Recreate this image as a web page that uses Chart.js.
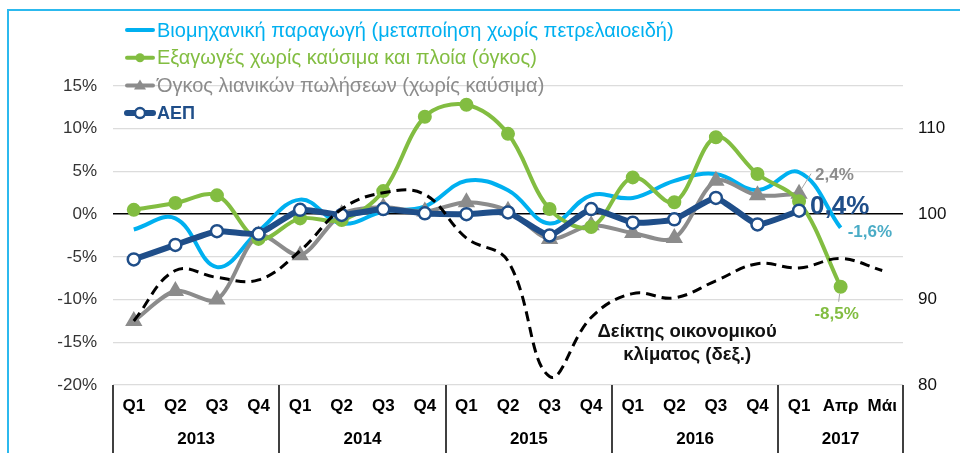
<!DOCTYPE html>
<html lang="el">
<head>
    <meta charset="UTF-8">
    <title>Δείκτες οικονομικής δραστηριότητας</title>
    <script src="https://cdn.jsdelivr.net/npm/chart.js"></script>
    <style>
        html, body { margin: 0; padding: 0; overflow: hidden; background: #fff; }
        #wrap { position: relative; width: 960px; height: 453px; }
        #frame {
            position: absolute; left: 7px; top: 9px; width: 980px; height: 480px;
            border-left: 2px solid #2cb9ee; border-top: 2px solid #2cb9ee;
            pointer-events: none;
        }
    </style>
</head>
<body>
<div id="wrap">
    <canvas id="chartCanvas" width="960" height="453"></canvas>
    <div id="frame"></div>
</div>
<script>
    // categories
    const quarters = ['Q1', 'Q2', 'Q3', 'Q4', 'Q1', 'Q2', 'Q3', 'Q4', 'Q1', 'Q2', 'Q3', 'Q4',
                      'Q1', 'Q2', 'Q3', 'Q4', 'Q1', 'Απρ', 'Μάι'];
    const years = ['2013', '2014', '2015', '2016', '2017'];
    const yearSpans = [4, 4, 4, 4, 3];

    // series (% y/y)
    const industry = [-1.8, -0.5, -6.2, -2.0, 1.7, -1.1, 0.3, 0.9, 3.9, 2.8, -1.1, 2.2, 1.9, 3.9, 4.7, 2.8, 4.9, -1.6, null];
    const exportsVol = [0.5, 1.3, 2.2, -2.9, -0.5, -0.7, 2.7, 11.4, 12.8, 9.4, 0.6, -1.5, 4.3, 1.4, 9.0, 4.7, 1.5, -8.5, null];
    const retail = [-12.5, -9.0, -10.0, -2.5, -4.8, 0.0, 0.8, 0.3, 1.4, 0.4, -2.9, -1.3, -2.2, -2.8, 3.9, 2.2, 2.4, null, null];
    const gdp = [-5.3, -3.6, -2.0, -2.3, 0.5, -0.1, 0.6, 0.1, 0.0, 0.2, -2.5, 0.6, -1.0, -0.6, 1.9, -1.2, 0.4, null, null];
    // economic sentiment index (right axis)
    const climate = [87.5, 93.4, 92.6, 92.3, 95.7, 100.6, 102.5, 102.3, 97.2, 94.5, 81.0, 87.9, 90.7, 90.2, 92.2, 94.2, 93.7, 94.8, 93.4];

    const leftTicks = [-20, -15, -10, -5, 0, 5, 10, 15];
    const rightTicks = [80, 90, 100, 110];

    const FONT = 'Arial, "Liberation Sans", sans-serif';
    const C_IND = '#00b0f0', C_EXP = '#82bd41', C_RET = '#8c8c8c', C_GDP = '#1f4e89';

    const legendRows = [
        { text: 'Βιομηχανική παραγωγή (μεταποίηση χωρίς πετρελαιοειδή)', color: C_IND, marker: null, width: 4 },
        { text: 'Εξαγωγές χωρίς καύσιμα και πλοία (όγκος)', color: C_EXP, marker: 'dot', width: 4 },
        { text: 'Όγκος λιανικών πωλήσεων (χωρίς καύσιμα)', color: C_RET, marker: 'tri', width: 4 },
        { text: 'ΑΕΠ', color: C_GDP, marker: 'ring', width: 6, bold: true }
    ];

    const extrasPlugin = {
        id: 'extras',
        afterDraw(chart) {
            const { ctx, chartArea, scales } = chart;
            const x = scales.x, y = scales.y, yR = scales.yR;
            const step = x.getPixelForValue(1) - x.getPixelForValue(0);
            ctx.save();

            // year groups under the quarter labels
            ctx.strokeStyle = '#404040';
            ctx.lineWidth = 2;
            ctx.fillStyle = '#000';
            ctx.font = 'bold 17px ' + FONT;
            ctx.textAlign = 'center';
            ctx.textBaseline = 'middle';
            let start = 0;
            years.forEach((yr, k) => {
                const left = x.getPixelForValue(start) - step / 2;
                const right = x.getPixelForValue(start + yearSpans[k] - 1) + step / 2;
                ctx.beginPath();
                ctx.moveTo(Math.round(left), chartArea.bottom);
                ctx.lineTo(Math.round(left), chart.height);
                ctx.stroke();
                if (k === years.length - 1) {
                    ctx.beginPath();
                    ctx.moveTo(Math.round(right), chartArea.bottom);
                    ctx.lineTo(Math.round(right), chart.height);
                    ctx.stroke();
                }
                ctx.fillText(yr, (left + right) / 2, chartArea.bottom + 54);
                start += yearSpans[k];
            });

            // legend, top left over the plot
            legendRows.forEach((row, i) => {
                const ly = 30 + i * 27.7;
                ctx.strokeStyle = row.color;
                ctx.lineWidth = row.width;
                ctx.lineCap = 'round';
                ctx.beginPath();
                ctx.moveTo(127, ly);
                ctx.lineTo(153, ly);
                ctx.stroke();
                ctx.fillStyle = row.color;
                if (row.marker === 'dot') {
                    ctx.beginPath(); ctx.arc(140, ly, 4.5, 0, Math.PI * 2); ctx.fill();
                } else if (row.marker === 'tri') {
                    ctx.beginPath();
                    ctx.moveTo(140, ly - 6); ctx.lineTo(146, ly + 4); ctx.lineTo(134, ly + 4);
                    ctx.closePath(); ctx.fill();
                } else if (row.marker === 'ring') {
                    ctx.fillStyle = '#fff';
                    ctx.lineWidth = 2.5;
                    ctx.beginPath(); ctx.arc(140, ly, 5, 0, Math.PI * 2); ctx.fill(); ctx.stroke();
                    ctx.fillStyle = row.color;
                }
                ctx.font = row.bold ? 'bold 18px ' + FONT : '20px ' + FONT;
                ctx.textAlign = 'left';
                ctx.textBaseline = 'middle';
                ctx.fillText(row.text, 157, ly + 1);
            });

            // value call-outs
            const last = 16, apr = 17;
            ctx.lineCap = 'butt';
            ctx.strokeStyle = '#a6a6a6';
            ctx.lineWidth = 1;
            ctx.beginPath();
            ctx.moveTo(x.getPixelForValue(last) + 2, y.getPixelForValue(retail[last]) - 4);
            ctx.lineTo(x.getPixelForValue(last) + 12, y.getPixelForValue(retail[last]) - 20);
            ctx.moveTo(x.getPixelForValue(apr) - 1, y.getPixelForValue(exportsVol[apr]) + 7);
            ctx.lineTo(x.getPixelForValue(apr) - 2, y.getPixelForValue(exportsVol[apr]) + 15);
            ctx.stroke();

            ctx.textAlign = 'left';
            ctx.font = 'bold 17px ' + FONT;
            ctx.fillStyle = '#8c8c8c';
            ctx.fillText('2,4%', x.getPixelForValue(last) + 16, y.getPixelForValue(retail[last]) - 18);
            ctx.font = 'bold 26px ' + FONT;
            ctx.fillStyle = C_GDP;
            ctx.fillText('0,4%', x.getPixelForValue(last) + 11, y.getPixelForValue(gdp[last]) - 4);
            ctx.font = 'bold 17px ' + FONT;
            ctx.fillStyle = '#4bacc6';
            ctx.fillText('-1,6%', x.getPixelForValue(apr) + 7, y.getPixelForValue(industry[apr]) + 5);
            ctx.fillStyle = C_EXP;
            ctx.textAlign = 'center';
            ctx.fillText('-8,5%', x.getPixelForValue(apr) - 4, y.getPixelForValue(exportsVol[apr]) + 28);

            // right-axis series label
            ctx.fillStyle = '#111';
            ctx.font = 'bold 18.5px ' + FONT;
            const cx = (x.getPixelForValue(13) + x.getPixelForValue(14)) / 2 - 8;
            ctx.fillText('Δείκτης οικονομικού', cx, yR.getPixelForValue(86.2));
            ctx.fillText('κλίματος (δεξ.)', cx, yR.getPixelForValue(83.5));

            ctx.restore();
        }
    };

    const ctx = document.getElementById('chartCanvas').getContext('2d');
    Chart.defaults.font.family = FONT;

    new Chart(ctx, {
        type: 'line',
        data: {
            labels: quarters,
            datasets: [
                {
                    label: 'Δείκτης οικονομικού κλίματος (δεξ.)',
                    data: climate,
                    yAxisID: 'yR',
                    borderColor: '#000',
                    borderWidth: 3,
                    borderDash: [10, 6],
                    pointRadius: 0,
                    tension: 0.4,
                    order: 0
                },
                {
                    label: 'ΑΕΠ',
                    data: gdp,
                    borderColor: C_GDP,
                    borderWidth: 6,
                    pointRadius: 6,
                    pointBackgroundColor: '#fff',
                    pointBorderColor: C_GDP,
                    pointBorderWidth: 2.5,
                    tension: 0.15,
                    order: 1
                },
                {
                    label: 'Εξαγωγές χωρίς καύσιμα και πλοία (όγκος)',
                    data: exportsVol,
                    borderColor: C_EXP,
                    borderWidth: 4,
                    pointRadius: 5,
                    pointBackgroundColor: C_EXP,
                    pointBorderColor: C_EXP,
                    tension: 0.35,
                    order: 2
                },
                {
                    label: 'Όγκος λιανικών πωλήσεων (χωρίς καύσιμα)',
                    data: retail,
                    borderColor: C_RET,
                    borderWidth: 4,
                    pointStyle: 'triangle',
                    pointRadius: 6,
                    pointBackgroundColor: C_RET,
                    pointBorderColor: C_RET,
                    tension: 0.3,
                    order: 3
                },
                {
                    label: 'Βιομηχανική παραγωγή (μεταποίηση χωρίς πετρελαιοειδή)',
                    data: industry,
                    borderColor: C_IND,
                    borderWidth: 4,
                    pointRadius: 0,
                    tension: 0.4,
                    order: 4
                }
            ]
        },
        options: {
            responsive: false,
            devicePixelRatio: 1,
            animation: false,
            layout: { padding: { top: 86, left: 0, right: 0, bottom: 0 } },
            plugins: {
                legend: { display: false },
                tooltip: { enabled: false }
            },
            scales: {
                x: {
                    offset: true,
                    grid: { display: false, drawTicks: false },
                    border: { display: false },
                    ticks: {
                        autoSkip: false,
                        maxRotation: 0,
                        padding: 11,
                        color: '#000',
                        font: { size: 17, weight: 'bold' }
                    },
                    afterFit: (scale) => { scale.height = 68; }
                },
                y: {
                    position: 'left',
                    min: -20,
                    max: 15,
                    afterBuildTicks: (axis) => { axis.ticks = leftTicks.map(v => ({ value: v })); },
                    grid: {
                        drawTicks: false,
                        color: (c) => c.tick && c.tick.value === 0 ? '#000' : '#dcdcdc',
                        lineWidth: (c) => c.tick && c.tick.value === 0 ? 1.6 : 1.3
                    },
                    border: { display: false },
                    ticks: {
                        padding: 16,
                        color: '#333',
                        font: { size: 17 },
                        callback: (v) => v + '%'
                    },
                    afterFit: (scale) => { scale.width = 113; }
                },
                yR: {
                    position: 'right',
                    min: 80,
                    max: 115,
                    afterBuildTicks: (axis) => { axis.ticks = rightTicks.map(v => ({ value: v })); },
                    grid: { display: false, drawTicks: false },
                    border: { display: false },
                    ticks: {
                        padding: 15,
                        color: '#111',
                        font: { size: 17 }
                    },
                    afterFit: (scale) => { scale.width = 57; }
                }
            }
        },
        plugins: [extrasPlugin]
    });
</script>
</body>
</html>
